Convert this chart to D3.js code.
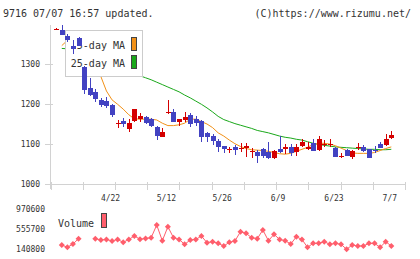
<!DOCTYPE html>
<html>
<head>
<meta charset="utf-8">
<script src="https://cdn.jsdelivr.net/npm/d3@7"></script>
<style>
  html, body { margin: 0; padding: 0; background: #fff; }
  text { font-family: "DejaVu Sans Mono", monospace; fill: #333; }
</style>
</head>
<body>
<div id="chart"></div>
<script>
// Data (61 trading days, oldest first)
const openP = [1387, 1383, 1369, 1344, 1363, 1292, 1240, 1230, 1209, 1208,
  1198, 1150, 1158, 1137, 1158, 1162, 1167, 1162, 1143, 1118,
  1178, 1180, 1156, 1160, 1173, 1162, 1157, 1128, 1121, 1108,
  1095, 1086, 1092, 1088, 1090, 1082, 1080, 1088, 1081, 1065,
  1088, 1088, 1094, 1081, 1096, 1088, 1103, 1085, 1099, 1100,
  1090, 1070, 1085, 1069, 1091, 1093, 1087, 1086, 1101, 1098,
  1116];
const highP = [1388, 1397, 1375, 1358, 1366, 1294, 1264, 1238, 1215, 1217,
  1200, 1160, 1165, 1162, 1188, 1177, 1171, 1166, 1145, 1141,
  1210, 1187, 1162, 1180, 1178, 1170, 1159, 1130, 1124, 1112,
  1096, 1094, 1098, 1102, 1102, 1090, 1085, 1090, 1105, 1086,
  1120, 1100, 1100, 1100, 1112, 1106, 1113, 1120, 1110, 1113,
  1092, 1077, 1087, 1085, 1103, 1098, 1088, 1095, 1106, 1125,
  1133];
const lowP = [1386, 1371, 1354, 1325, 1343, 1225, 1220, 1205, 1192, 1190,
  1168, 1140, 1143, 1131, 1155, 1156, 1149, 1143, 1110, 1118,
  1176, 1155, 1146, 1155, 1142, 1145, 1104, 1106, 1098, 1081,
  1079, 1077, 1073, 1081, 1069, 1065, 1054, 1066, 1063, 1063,
  1077, 1075, 1070, 1070, 1092, 1085, 1083, 1083, 1092, 1092,
  1069, 1065, 1070, 1063, 1085, 1081, 1066, 1077, 1090, 1096,
  1113];
const closeP = [1387, 1371, 1360, 1336, 1345, 1234, 1223, 1211, 1197, 1194,
  1172, 1152, 1150, 1153, 1187, 1171, 1153, 1146, 1121, 1131,
  1179, 1156, 1162, 1167, 1149, 1153, 1117, 1117, 1108, 1093,
  1088, 1088, 1085, 1090, 1096, 1083, 1071, 1071, 1065, 1083,
  1081, 1094, 1077, 1094, 1104, 1094, 1083, 1113, 1101, 1101,
  1069, 1071, 1071, 1083, 1092, 1082, 1066, 1085, 1091, 1113,
  1123];
const ma5 = [null, 1345, 1358, 1355, 1345, 1325, 1300, 1282, 1268, 1232,
  1210, 1199, 1187, 1173, 1163, 1162, 1162, 1162, 1160, 1152,
  1146, 1146, 1148, 1152, 1162, 1162, 1156, 1150, 1141, 1128,
  1120, 1110, 1101, 1094, 1089, 1086, 1085, 1084, 1082, 1079,
  1076, 1075, 1077, 1082, 1087, 1092, 1099, 1102, 1102, 1100,
  1096, 1090, 1084, 1078, 1077, 1077, 1077, 1079, 1084, 1089,
  1093];
const ma25 = [null, 1338, 1337, 1333, 1329, 1324, 1319, 1313, 1307, 1301,
  1296, 1290, 1285, 1280, 1275, 1270, 1265, 1260, 1254, 1248,
  1242, 1236, 1230, 1222, 1215, 1207, 1199, 1190, 1180, 1169,
  1161, 1156, 1151, 1147, 1143, 1139, 1134, 1131, 1128, 1124,
  1120, 1117, 1115, 1112, 1110, 1106, 1102, 1099, 1097, 1095,
  1093, 1092, 1091, 1090, 1089, 1088, 1087, 1087, 1086, 1086,
  1087];
const volume = [null, 229500, 182000, 250000, 359600, null, null, 360000, 333000, 344000,
  312000, 344000, 285000, 344000, 415000, 350000, 364000, 380000, 642000, 318000,
  607000, 380000, 344000, 244000, 333000, 344000, 415000, 277000, 298000, 264000,
  209000, 285000, 312000, 504000, 470000, 380000, 360000, 539000, 318000, 450000,
  344000, 318000, 250000, 400000, 344000, 182000, 264000, 264000, 298000, 244000,
  264000, 244000, 141000, 230000, 209000, 209000, 264000, 264000, 182000, 298000,
  209000];

const dateTicks = [10, 20, 30, 40, 50, 60];
const dateLabels = ["4/22", "5/12", "5/26", "6/9", "6/23", "7/7"];
const priceTicks = [1000, 1100, 1200, 1300];
const volumeTicks = [140800, 555700, 970600];

function createChart() {
  const width = 420, height = 259;
  const colUp = "#d40000", colDown = "#4242c2";
  const colMa5 = "#f29118", colMa25 = "#1aa81a", colVol = "#ff5e6c";
  const axisCol = "#d2d2d2";

  const svg = d3.select("#chart").append("svg")
    .attr("width", width)
    .attr("height", height);

  // header
  svg.append("text").attr("x", 3).attr("y", 16.5)
    .attr("font-size", 10).text("9716 07/07 16:57 updated.");
  svg.append("text").attr("x", 411).attr("y", 16.5)
    .attr("font-size", 10).attr("text-anchor", "end").text("(C)https://www.rizumu.net/");

  // scales
  const idx = d3.range(openP.length);
  const x = d3.scaleLinear().domain([0, openP.length - 1]).range([56.2, 391.3]);
  const y = d3.scaleLinear().domain([1000, 1400]).range([184.3, 23.5]);
  const yv = d3.scaleLinear().domain([140800, 970600]).range([249.3, 209.1]);
  const grid = d3.scaleLinear().domain([0, 11]).range([50.5, 405]);

  // axes
  const ax = svg.append("g").attr("shape-rendering", "crispEdges")
    .attr("stroke", axisCol).attr("stroke-width", 1);
  ax.append("line").attr("x1", 50.5).attr("x2", 50.5).attr("y1", 25).attr("y2", 189);
  ax.append("line").attr("x1", 50.5).attr("x2", 405).attr("y1", 184.5).attr("y2", 184.5);
  ax.selectAll(".xt").data(d3.range(12)).enter().append("line")
    .attr("x1", d => Math.round(grid(d)) + 0.5).attr("x2", d => Math.round(grid(d)) + 0.5)
    .attr("y1", 181.5).attr("y2", 189.5);
  ax.selectAll(".yt").data(priceTicks).enter().append("line")
    .attr("x1", 45).attr("x2", 53)
    .attr("y1", d => Math.round(y(d)) + 0.5).attr("y2", d => Math.round(y(d)) + 0.5);

  svg.selectAll(".ylab").data(priceTicks).enter().append("text")
    .attr("x", 40).attr("y", d => y(d)).attr("dy", "0.35em")
    .attr("font-size", 8).attr("text-anchor", "end")
    .text(d => d);

  svg.selectAll(".xlab").data(dateTicks).enter().append("text")
    .attr("x", d => x(d) - 1.5).attr("y", 200.5)
    .attr("font-size", 8).attr("text-anchor", "middle")
    .text((d, i) => dateLabels[i]);

  svg.selectAll(".vlab").data(volumeTicks).enter().append("text")
    .attr("x", 45).attr("y", d => yv(d)).attr("dy", "0.35em")
    .attr("font-size", 8).attr("text-anchor", "end")
    .text(d => d);

  // moving averages
  const maLine = arr => d3.line()
    .defined(i => arr[i] != null)
    .x(i => x(i)).y(i => y(arr[i]))(idx);
  svg.append("path").attr("d", maLine(ma25)).attr("fill", "none")
    .attr("stroke", colMa25).attr("stroke-width", 1);
  svg.append("path").attr("d", maLine(ma5)).attr("fill", "none")
    .attr("stroke", colMa5).attr("stroke-width", 1);

  // legend (candles are drawn over it)
  const lg = svg.append("g");
  lg.append("rect").attr("x", 65.5).attr("y", 30.5).attr("width", 77).attr("height", 46)
    .attr("fill", "#fff").attr("stroke", "#cccccc").attr("shape-rendering", "crispEdges");
  lg.append("text").attr("x", 125).attr("y", 49).attr("font-size", 10)
    .attr("text-anchor", "end").text("5-day MA");
  lg.append("text").attr("x", 125).attr("y", 67).attr("font-size", 10)
    .attr("text-anchor", "end").text("25-day MA");
  lg.append("rect").attr("x", 131.5).attr("y", 37.5).attr("width", 5).attr("height", 13)
    .attr("fill", colMa5).attr("stroke", "#444").attr("shape-rendering", "crispEdges");
  lg.append("rect").attr("x", 131.5).attr("y", 55.5).attr("width", 5).attr("height", 13)
    .attr("fill", colMa25).attr("stroke", "#444").attr("shape-rendering", "crispEdges");

  // candles
  const candles = svg.append("g").attr("shape-rendering", "crispEdges");
  const col = i => closeP[i] >= openP[i] ? colUp : colDown;
  candles.selectAll(".wick").data(idx).enter().append("line")
    .attr("x1", i => Math.round(x(i)) + 0.5).attr("x2", i => Math.round(x(i)) + 0.5)
    .attr("y1", i => y(highP[i])).attr("y2", i => y(lowP[i]))
    .attr("stroke", col).attr("stroke-width", 1);
  candles.selectAll(".body").data(idx).enter().append("rect")
    .attr("x", i => Math.round(x(i)) - 2)
    .attr("width", 5)
    .attr("y", i => y(Math.max(openP[i], closeP[i])))
    .attr("height", i => Math.max(1, Math.abs(y(openP[i]) - y(closeP[i]))))
    .attr("fill", col);

  // volume
  const vLine = d3.line()
    .defined(i => volume[i] != null)
    .x(i => x(i)).y(i => yv(volume[i]));
  svg.append("path").attr("d", vLine(idx)).attr("fill", "none")
    .attr("stroke", colVol).attr("stroke-width", 1);
  svg.selectAll(".vpt").data(idx.filter(i => volume[i] != null)).enter().append("path")
    .attr("d", "M0,-3L3,0L0,3L-3,0Z")
    .attr("transform", i => `translate(${x(i)},${yv(volume[i])})`)
    .attr("fill", colVol);

  svg.append("text").attr("x", 58).attr("y", 226.5).attr("font-size", 10).text("Volume");
  svg.append("rect").attr("x", 101.5).attr("y", 213.5).attr("width", 5).attr("height", 14)
    .attr("fill", colVol).attr("stroke", "#444").attr("shape-rendering", "crispEdges");
}

document.addEventListener('DOMContentLoaded', createChart);
</script>
</body>
</html>
